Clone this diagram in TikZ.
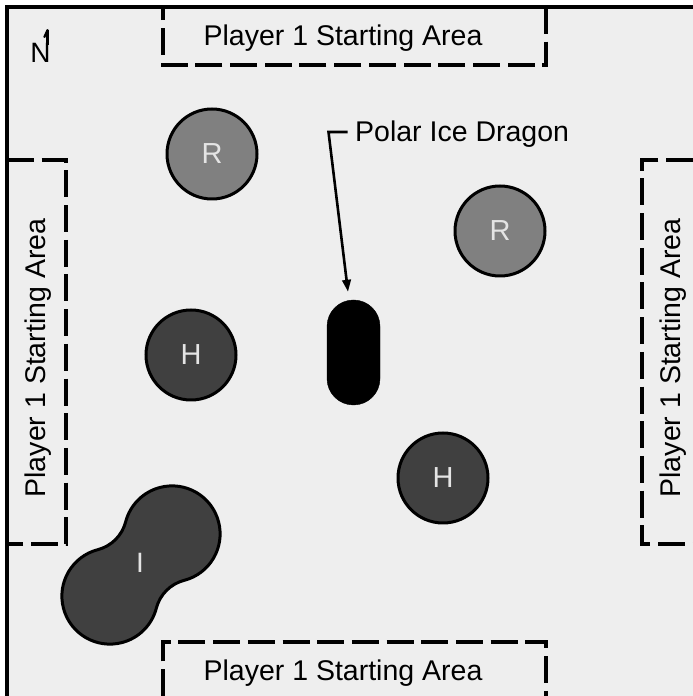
\documentclass[tikz,border=0pt]{standalone}
\usepackage{fontspec}
\setmainfont{Liberation Sans}
\usetikzlibrary{arrows.meta}
\definecolor{bg}{HTML}{EEEEEE}
\definecolor{rgray}{HTML}{808080}
\definecolor{hgray}{HTML}{404040}
\definecolor{lettr}{HTML}{E4E4E4}
\begin{document}
\begin{tikzpicture}[x=1pt,y=1pt,
  zone/.style={line width=3.2pt, dash pattern=on 27pt off 7.7pt},
  zonetext/.style={font=\fontsize{28.5}{30}\selectfont, inner sep=0pt, anchor=base},
  token/.style={circle, draw=black, line width=3pt, minimum size=90pt, inner sep=0pt, text=lettr, font=\fontsize{29}{30}\selectfont},
  tokenline/.style={draw=black, line width=3pt}
]
\useasboundingbox (0,0) rectangle (693,696);
\fill[white] (0,0) rectangle (693,696);
\fill[bg] (7,0) rectangle (693,689);
\draw[line width=3.6pt] (7,0) -- (7,689) -- (693,689);

% north marker
\node[inner sep=0pt, anchor=base, font=\fontsize{28}{29}\selectfont] (north) at (40.5,633) {N};
\draw[line width=2.6pt] (47.6,651) -- (47.6,666);
\draw[line width=2.2pt, line cap=round] (47.6,666) -- (44.4,659);

% starting areas
\draw[zone] (546,689) -- (546,631) -- (163,631) -- (163,689);
\node[zonetext] (ztop) at (343,650) {Player 1 Starting Area};
\draw[zone] (163,0) -- (163,54) -- (546,54) -- (546,0);
\node[zonetext] (zbot) at (343,16) {Player 1 Starting Area};
\draw[zone] (7,536) -- (66,536) -- (66,152) -- (7,152);
\node[zonetext, rotate=90] (zleft) at (45,338) {Player 1 Starting Area};
\draw[zone] (693,536) -- (642,536) -- (642,152) -- (693,152);
\node[zonetext, rotate=90] (zright) at (680,338) {Player 1 Starting Area};

% tokens
\node[token, fill=rgray] (r1) at (212,542) {R};
\node[token, fill=rgray] (r2) at (500,465) {R};
\node[token, fill=hgray] (h1) at (191,341) {H};
\node[token, fill=hgray] (h2) at (443,218) {H};

\begin{scope}[shift={(141,131)}, rotate=45]
\path[tokenline, fill=hgray] (19.64,-41.36)
  arc[start angle=239.5, end angle=480.5, radius=48pt]
  arc[start angle=-59.5, end angle=-120.5, radius=38.7pt]
  arc[start angle=59.5, end angle=300.5, radius=48pt]
  arc[start angle=120.5, end angle=59.5, radius=38.7pt] -- cycle;
\end{scope}
\node[inner sep=0pt, text=lettr, font=\fontsize{28}{29}\selectfont] (i1) at (140,133) {I};

% dragon
\node[fill=black, draw=black, minimum width=53pt, minimum height=105pt, rounded corners=26.5pt, inner sep=0pt] (dragon) at (353.5,343.5) {};
\node[zonetext, anchor=base west] (lbl) at (355,554) {Polar Ice Dragon};
\coordinate (tick) at (347.5,564);
\coordinate (bend) at (328.5,564);
\draw[line width=2.6pt, -{Triangle[length=12pt,width=8.5pt]}] (tick) -- (bend) -- ([xshift=-5.5pt,yshift=8pt]dragon.north);
\end{tikzpicture}
\end{document}
